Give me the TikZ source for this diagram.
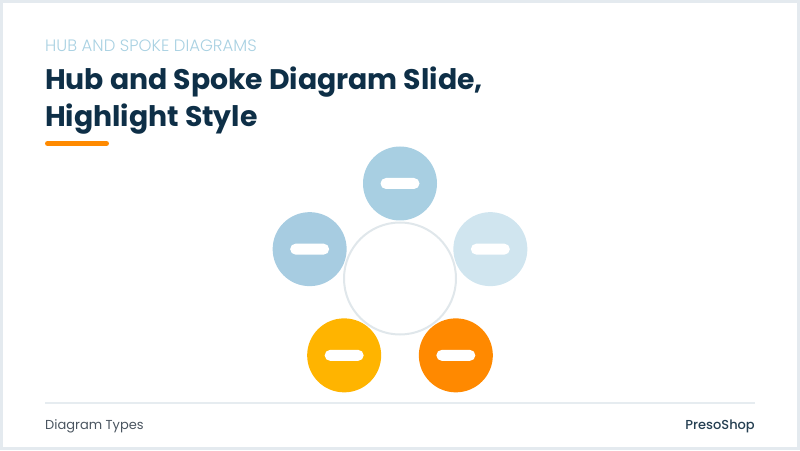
\documentclass[tikz,border=0pt]{standalone}
\usepackage{fontspec}
\setmainfont{Poppins}
\newfontfamily\poplight{Poppins Light}
\newfontfamily\popmed{Poppins Medium}
\usetikzlibrary{positioning}
\definecolor{frameline}{HTML}{E4EAEF}
\definecolor{ruleline}{HTML}{E6ECF0}
\definecolor{hubline}{HTML}{E0E7EB}
\definecolor{navy}{HTML}{0E2F47}
\definecolor{kickerblue}{HTML}{A9D1E2}
\definecolor{footgray}{HTML}{4A5560}
\definecolor{spokeA}{HTML}{A8CFE2}
\definecolor{spokeB}{HTML}{A7CCE1}
\definecolor{spokeC}{HTML}{D0E5EF}
\definecolor{spokeD}{HTML}{FFB400}
\definecolor{spokeE}{HTML}{FF8900}
\definecolor{accent}{HTML}{FF8A00}

\begin{document}
\begin{tikzpicture}[x=1pt,y=1pt,
	spoke/.style={circle, minimum size=74pt, inner sep=0pt},
	pill/.style={fill=white, rounded corners=5.5pt, minimum width=39pt, minimum height=11pt, inner sep=0pt},
	hubring/.style={circle, draw=hubline, line width=2pt, fill=white, minimum size=112pt, inner sep=0pt},
	txt/.style={inner sep=0pt, anchor=base west}]
		\useasboundingbox (0,0) rectangle (800,450);
		\draw[frameline, line width=3pt] (1.5,1.5) rectangle (798.5,448.5);
		\node (kicker) [txt, text=kickerblue, font=\poplight\fontsize{16.5}{18}\selectfont] at (45,398) {HUB AND SPOKE DIAGRAMS};
		\node (title1) [txt, text=navy, font=\bfseries\fontsize{28.3}{37}\selectfont] at (45,360) {Hub and Spoke Diagram Slide,};
		\node (title2) [txt, text=navy, font=\bfseries\fontsize{28.3}{37}\selectfont] at ([yshift=-37pt]title1.base west) {Highlight Style};
		\coordinate (bar1) at (47.5,306.5);
		\coordinate (bar2) at (106.5,306.5);
		\draw[accent, line width=5pt, line cap=round] (bar1) -- (bar2);
		\node (hub) [hubring] at (400,171.5) {};
		\node (s1) [spoke, fill=spokeA] at ([shift={(90:95)}]hub.center) {};
		\node (s2) [spoke, fill=spokeB] at ([shift={(162:95)}]hub.center) {};
		\node (s3) [spoke, fill=spokeC] at ([shift={(18:95)}]hub.center) {};
		\node (s4) [spoke, fill=spokeD] at ([shift={(234:95)}]hub.center) {};
		\node (s5) [spoke, fill=spokeE] at ([shift={(306:95)}]hub.center) {};
		\node (p1) [pill] at (s1) {};
		\node (p2) [pill] at (s2) {};
		\node (p3) [pill] at (s3) {};
		\node (p4) [pill] at (s4) {};
		\node (p5) [pill] at (s5) {};
		\coordinate (rule1) at (45,47);
		\coordinate (rule2) at (755,47);
		\draw[ruleline, line width=1.5pt] (rule1) -- (rule2);
		\node (foot) [txt, text=footgray, font=\fontsize{13}{15}\selectfont] at (45,21) {Diagram Types};
		\node (brand) [txt, anchor=base east, text=navy!80!gray, font=\popmed\fontsize{13}{15}\selectfont] at (755,21) {PresoShop};
\end{tikzpicture}
\end{document}
